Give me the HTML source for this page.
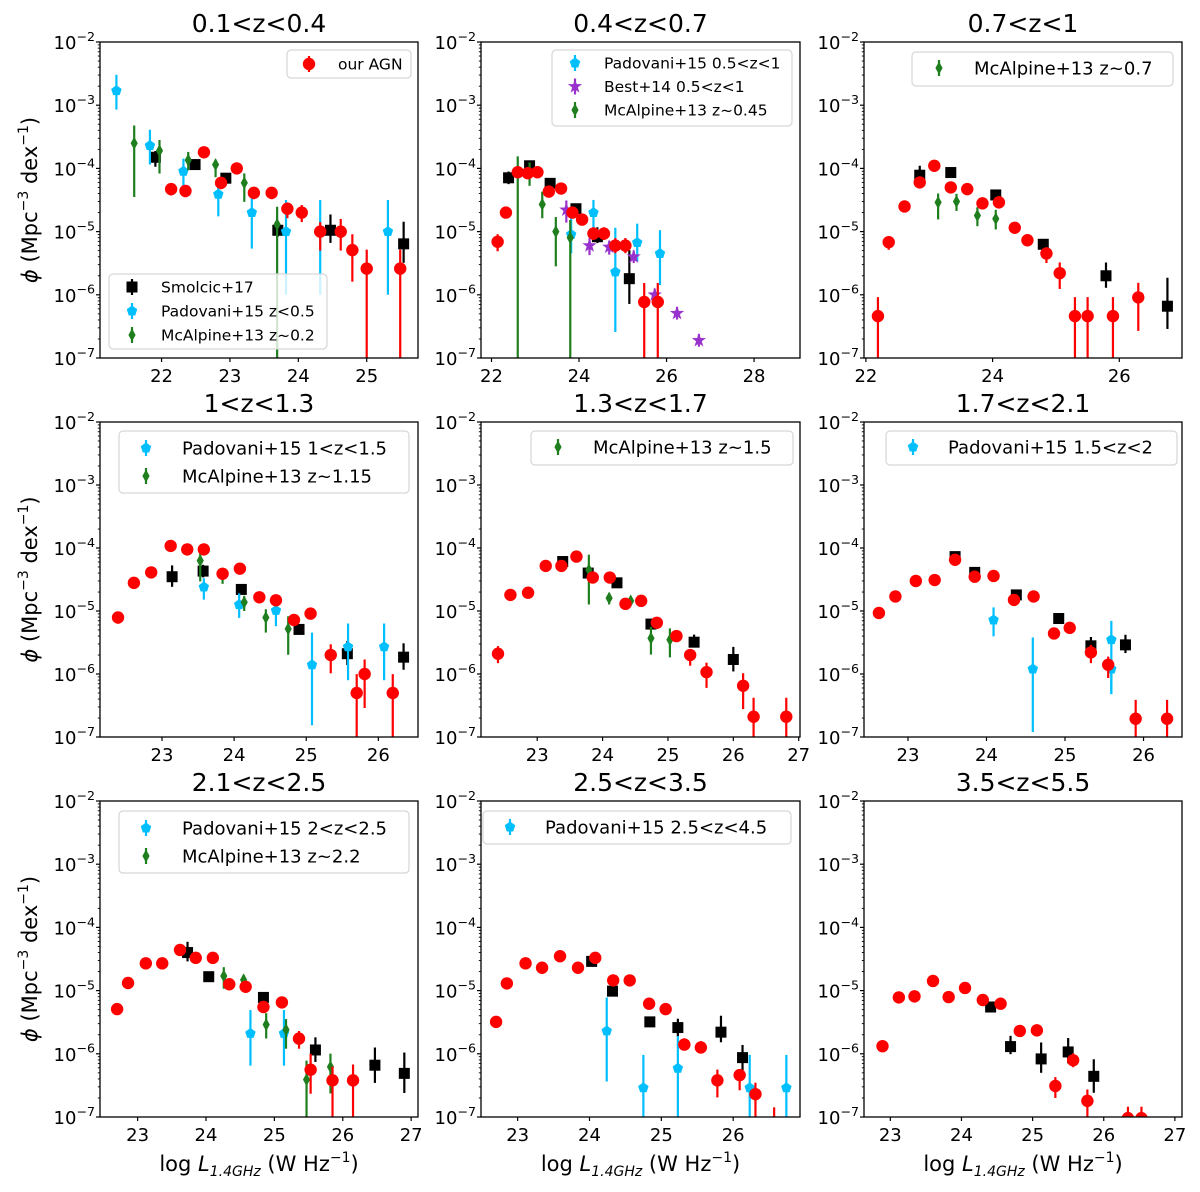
<!DOCTYPE html>
<html><head><meta charset="utf-8"><title>Radio AGN luminosity functions</title>
<style>
html,body{margin:0;padding:0;background:#fff;overflow:hidden;width:1200px;height:1192px;}
svg{display:block;font-family:"DejaVu Sans","Liberation Sans",sans-serif;}
</style></head>
<body>
<svg id="fig" width="1200" height="1192" viewBox="0 0 1200 1192" xmlns="http://www.w3.org/2000/svg"></svg>
<script>
// ---------- Panel 1: 0.1<z<0.4 ----------
const p1RedX=[22.14,22.35,22.62,22.87,23.10,23.35,23.61,23.84,24.05,24.32,24.62,24.79,25.0,25.49];
const p1RedY=[4.7e-5,4.4e-5,1.8e-4,5.9e-5,1.0e-4,4.1e-5,4.1e-5,2.3e-5,2.0e-5,1.0e-5,1.0e-5,5.1e-6,2.6e-6,2.6e-6];
const p1RedLo=[0.1,0.1,0.05,0.1,0.05,0.1,0.1,0.15,0.15,0.3,0.3,0.5,3,3];
const p1RedHi=[0.08,0.08,0.05,0.08,0.05,0.08,0.08,0.1,0.12,0.15,0.2,0.25,0.3,0.3];
const p1BlkX=[21.91,22.49,22.94,23.70,24.47,25.54];
const p1BlkY=[1.5e-4,1.15e-4,7e-5,1.05e-5,1.05e-5,6.4e-6];
const p1BlkLo=[0.15,0.05,0.05,0.1,0.2,0.3];
const p1BlkHi=[0.1,0.05,0.05,0.1,0.25,0.35];
const p1CyaX=[21.34,21.83,22.32,22.83,23.32,23.82,24.32,25.31];
const p1CyaY=[1.7e-3,2.3e-4,9e-5,3.9e-5,2e-5,1e-5,1e-5,1e-5];
const p1CyaLo=[0.3,0.3,0.4,0.35,0.57,1.0,1.0,1.0];
const p1CyaHi=[0.25,0.25,0.2,0.2,0.25,0.5,0.5,0.5];
const p1GrnX=[21.6,21.97,22.39,22.79,23.21,23.69];
const p1GrnY=[2.5e-4,1.9e-4,1.35e-4,1.15e-4,5.9e-5,1.3e-5];
const p1GrnLo=[0.85,0.36,0.16,0.2,0.3,3];
const p1GrnHi=[0.28,0.17,0.13,0.08,0.15,0.28];
// ---------- Panel 2: 0.4<z<0.7 ----------
const p2RedX=[22.14,22.33,22.60,22.83,23.05,23.31,23.59,23.85,24.07,24.33,24.57,24.83,25.06,25.49,25.80];
const p2RedY=[6.9e-6,2e-5,8.7e-5,8.4e-5,8.7e-5,4.3e-5,4.8e-5,2e-5,1.55e-5,9.3e-6,9.3e-6,6e-6,6e-6,7.7e-7,7.7e-7];
const p2RedLo=[0.15,0.05,0.05,0.05,0.05,0.07,0.05,0.07,0.07,0.1,0.1,0.12,0.12,3,3];
const p2RedHi=[0.12,0.05,0.05,0.05,0.05,0.07,0.05,0.07,0.07,0.1,0.1,0.12,0.12,0.3,0.3];
const p2BlkX=[22.39,22.87,23.34,23.93,24.42,25.15];
const p2BlkY=[7.1e-5,1.1e-4,5.8e-5,2.3e-5,8.3e-6,1.8e-6];
const p2BlkLo=[0.1,0.05,0.05,0.08,0.1,0.4];
const p2BlkHi=[0.1,0.05,0.05,0.08,0.15,0.45];
const p2CyaX=[23.82,24.33,24.83,25.33,25.85];
const p2CyaY=[9e-6,2e-5,2.3e-6,6.7e-6,4.5e-6];
const p2CyaLo=[0.3,0.25,0.95,0.3,0.5];
const p2CyaHi=[0.3,0.2,0.7,0.3,0.37];
const p2PurX=[23.71,24.24,24.69,25.25,25.73,26.24,26.74];
const p2PurY=[2.2e-5,6e-6,5.7e-6,4e-6,1e-6,5.1e-7,1.9e-7];
const p2PurLo=[0.2,0.15,0.12,0.1,0.1,0.1,0.1];
const p2PurHi=[0.15,0.12,0.1,0.1,0.1,0.1,0.1];
const p2GrnX=[22.60,22.87,23.16,23.47,23.80];
const p2GrnY=[8.7e-5,8.4e-5,2.7e-5,1e-5,8e-6];
const p2GrnLo=[3,0.2,0.22,0.55,3];
const p2GrnHi=[0.25,0.17,0.2,0.23,0.28];
// ---------- Panel 3: 0.7<z<1 ----------
const p3RedX=[22.19,22.36,22.61,22.85,23.08,23.34,23.60,23.84,24.10,24.35,24.55,24.85,25.06,25.30,25.50,25.90,26.30];
const p3RedY=[4.6e-7,6.8e-6,2.5e-5,6e-5,1.1e-4,5e-5,4.7e-5,2.8e-5,2.9e-5,1.15e-5,7.3e-6,4.5e-6,2.2e-6,4.6e-7,4.6e-7,4.6e-7,9.1e-7];
const p3RedLo=[3,0.12,0.05,0.05,0.05,0.05,0.05,0.05,0.05,0.05,0.08,0.15,0.25,3,3,3,0.53];
const p3RedHi=[0.3,0.08,0.05,0.05,0.05,0.05,0.05,0.05,0.05,0.05,0.05,0.1,0.17,0.3,0.3,0.3,0.23];
const p3BlkX=[22.85,23.34,24.05,24.80,25.79,26.76];
const p3BlkY=[7.8e-5,8.6e-5,3.8e-5,6.3e-6,2.0e-6,6.6e-7];
const p3BlkLo=[0.13,0.05,0.05,0.05,0.19,0.36];
const p3BlkHi=[0.15,0.05,0.05,0.07,0.21,0.45];
const p3GrnX=[23.14,23.43,23.76,24.05];
const p3GrnY=[2.9e-5,3e-5,1.8e-5,1.6e-5];
const p3GrnLo=[0.27,0.15,0.17,0.17];
const p3GrnHi=[0.14,0.12,0.13,0.14];
// ---------- Panel 4: 1<z<1.3 ----------
const p4RedX=[22.39,22.61,22.85,23.12,23.35,23.58,23.84,24.08,24.35,24.58,24.83,25.06,25.34,25.70,25.81,26.20];
const p4RedY=[7.9e-6,2.8e-5,4.1e-5,1.08e-4,9.5e-5,9.5e-5,3.9e-5,4.7e-5,1.65e-5,1.48e-5,7.2e-6,9.1e-6,2e-6,5e-7,1e-6,5e-7];
const p4RedLo=[0.1,0.05,0.05,0.05,0.05,0.05,0.05,0.05,0.05,0.05,0.05,0.05,0.29,3,0.54,3];
const p4RedHi=[0.08,0.05,0.05,0.05,0.05,0.05,0.05,0.05,0.05,0.05,0.05,0.05,0.17,0.3,0.23,0.3];
const p4BlkX=[23.14,23.57,24.10,24.90,25.57,26.35];
const p4BlkY=[3.5e-5,4.3e-5,2.2e-5,5.1e-6,2.1e-6,1.85e-6];
const p4BlkLo=[0.16,0.1,0.05,0.05,0.18,0.2];
const p4BlkHi=[0.18,0.1,0.05,0.05,0.2,0.22];
const p4CyaX=[23.58,24.07,24.58,25.08,25.58,26.08];
const p4CyaY=[2.4e-5,1.26e-5,1.02e-5,1.4e-6,2.7e-6,2.7e-6];
const p4CyaLo=[0.2,0.21,0.25,0.96,0.53,0.53];
const p4CyaHi=[0.14,0.18,0.06,0.51,0.37,0.37];
const p4GrnX=[23.53,23.84,24.14,24.44,24.75];
const p4GrnY=[6.3e-5,3.9e-5,1.38e-5,7.9e-6,5.2e-6];
const p4GrnLo=[0.33,0.16,0.14,0.24,0.41];
const p4GrnHi=[0.12,0.09,0.1,0.13,0.2];
// ---------- Panel 5: 1.3<z<1.7 ----------
const p5RedX=[22.40,22.59,22.86,23.13,23.37,23.60,23.85,24.11,24.35,24.59,24.83,25.13,25.34,25.59,26.15,26.31,26.81];
const p5RedY=[2.1e-6,1.8e-5,1.95e-5,5.2e-5,5.2e-5,7.3e-5,3.4e-5,3.4e-5,1.3e-5,1.45e-5,6.5e-6,4e-6,2e-6,1.07e-6,6.5e-7,2.1e-7,2.1e-7];
const p5RedLo=[0.15,0.05,0.05,0.05,0.05,0.05,0.06,0.06,0.06,0.06,0.08,0.08,0.17,0.25,0.37,3,3];
const p5RedHi=[0.12,0.05,0.05,0.05,0.05,0.05,0.06,0.06,0.06,0.06,0.08,0.08,0.06,0.15,0.2,0.3,0.3];
const p5BlkX=[23.39,23.78,24.22,24.74,25.40,26.0];
const p5BlkY=[6.1e-5,4e-5,2.8e-5,6.2e-6,3.2e-6,1.7e-6];
const p5BlkLo=[0.05,0.05,0.05,0.05,0.08,0.19];
const p5BlkHi=[0.07,0.05,0.05,0.05,0.12,0.2];
const p5GrnX=[23.79,24.10,24.43,24.74,25.03];
const p5GrnY=[4.5e-5,1.6e-5,1.45e-5,3.7e-6,3.5e-6];
const p5GrnLo=[0.55,0.1,0.05,0.26,0.28];
const p5GrnHi=[0.24,0.08,0.05,0.18,0.18];
// ---------- Panel 6: 1.7<z<2.1 ----------
const p6RedX=[22.63,22.84,23.10,23.34,23.60,23.85,24.09,24.35,24.60,24.86,25.06,25.33,25.55,25.90,26.30];
const p6RedY=[9.3e-6,1.7e-5,3e-5,3.1e-5,6.5e-5,3.5e-5,3.6e-5,1.5e-5,1.7e-5,4.4e-6,5.4e-6,2.2e-6,1.4e-6,1.95e-7,1.95e-7];
const p6RedLo=[0.05,0.05,0.05,0.05,0.05,0.05,0.05,0.05,0.05,0.06,0.06,0.17,0.21,3,3];
const p6RedHi=[0.05,0.05,0.05,0.05,0.05,0.05,0.05,0.05,0.05,0.06,0.06,0.12,0.13,0.3,0.3];
const p6BlkX=[23.60,23.85,24.38,24.92,25.33,25.77];
const p6BlkY=[7.3e-5,4.1e-5,1.8e-5,7.6e-6,2.8e-6,2.9e-6];
const p6BlkLo=[0.05,0.05,0.05,0.05,0.1,0.13];
const p6BlkHi=[0.07,0.05,0.05,0.05,0.14,0.16];
const p6CyaX=[24.09,24.59,25.59,25.59];
const p6CyaY=[7.2e-6,1.2e-6,3.5e-6,1.2e-6];
const p6CyaLo=[0.26,1.0,0.85,0.4];
const p6CyaHi=[0.2,0.5,0.3,0.1];
// ---------- Panel 7: 2.1<z<2.5 ----------
const p7RedX=[22.70,22.86,23.12,23.36,23.62,23.85,24.10,24.34,24.58,24.84,25.11,25.36,25.53,25.85,26.15];
const p7RedY=[5.1e-6,1.32e-5,2.7e-5,2.7e-5,4.4e-5,3.3e-5,3.3e-5,1.26e-5,1.15e-5,5.5e-6,6.5e-6,1.74e-6,5.6e-7,3.8e-7,3.8e-7];
const p7RedLo=[0.05,0.05,0.05,0.05,0.05,0.05,0.05,0.05,0.05,0.05,0.05,0.16,0.38,3,3];
const p7RedHi=[0.05,0.05,0.05,0.05,0.05,0.05,0.05,0.05,0.05,0.05,0.05,0.12,0.25,0.22,0.25];
const p7BlkX=[23.73,24.04,24.84,25.60,26.47,26.90];
const p7BlkY=[4e-5,1.66e-5,7.8e-6,1.15e-6,6.6e-7,4.9e-7];
const p7BlkLo=[0.14,0.05,0.05,0.19,0.28,0.31];
const p7BlkHi=[0.17,0.05,0.05,0.2,0.28,0.33];
const p7CyaX=[24.65,25.14];
const p7CyaY=[2.1e-6,2.1e-6];
const p7CyaLo=[0.51,0.51];
const p7CyaHi=[0.37,0.37];
const p7GrnX=[24.26,24.55,24.88,25.17,25.47,25.82];
const p7GrnY=[1.7e-5,1.48e-5,2.9e-6,2.4e-6,3.9e-7,6.2e-7];
const p7GrnLo=[0.2,0.1,0.22,0.3,3,0.42];
const p7GrnHi=[0.14,0.08,0.18,0.17,0.3,0.21];
// ---------- Panel 8: 2.5<z<3.5 ----------
const p8RedX=[22.70,22.85,23.11,23.34,23.59,23.84,24.08,24.33,24.56,24.83,25.06,25.32,25.55,25.78,26.09,26.31,26.57];
const p8RedY=[3.2e-6,1.3e-5,2.7e-5,2.3e-5,3.5e-5,2.3e-5,3.3e-5,1.45e-5,1.45e-5,6.2e-6,5.1e-6,1.4e-6,1.26e-6,3.8e-7,4.6e-7,2.3e-7,8e-8];
const p8RedLo=[0.05,0.05,0.05,0.05,0.05,0.05,0.05,0.05,0.05,0.05,0.05,0.08,0.08,0.27,0.24,3,3];
const p8RedHi=[0.05,0.05,0.05,0.05,0.05,0.05,0.05,0.05,0.05,0.05,0.05,0.1,0.1,0.17,0.09,0.18,0.25];
const p8BlkX=[24.03,24.32,24.84,25.23,25.83,26.13];
const p8BlkY=[2.9e-5,9.8e-6,3.2e-6,2.6e-6,2.2e-6,8.7e-7];
const p8BlkLo=[0.05,0.05,0.05,0.15,0.16,0.2];
const p8BlkHi=[0.05,0.05,0.07,0.14,0.26,0.2];
const p8CyaX=[24.24,24.75,25.23,26.23,26.74];
const p8CyaY=[2.3e-6,2.9e-7,5.9e-7,2.9e-7,2.9e-7];
const p8CyaLo=[0.8,3,3,3,3];
const p8CyaHi=[0.53,0.52,0.51,0.52,0.52];
// ---------- Panel 9: 3.5<z<5.5 ----------
const p9RedX=[22.89,23.12,23.34,23.60,23.82,24.05,24.30,24.55,24.82,25.06,25.32,25.57,25.77,26.34,26.53];
const p9RedY=[1.32e-6,7.8e-6,8.1e-6,1.42e-5,7.9e-6,1.1e-5,7.1e-6,6.2e-6,2.3e-6,2.35e-6,3.1e-7,7.9e-7,1.8e-7,9.6e-8,9.6e-8];
const p9RedLo=[0.05,0.05,0.05,0.05,0.05,0.05,0.05,0.05,0.05,0.05,0.19,0.11,3,3,3];
const p9RedHi=[0.05,0.05,0.05,0.05,0.05,0.05,0.05,0.05,0.05,0.05,0.14,0.11,0.18,0.18,0.18];
const p9BlkX=[24.41,24.69,25.12,25.50,25.86];
const p9BlkY=[5.5e-6,1.3e-6,8.3e-7,1.07e-6,4.4e-7];
const p9BlkLo=[0.05,0.12,0.22,0.18,0.26];
const p9BlkHi=[0.05,0.17,0.26,0.22,0.27];

// Axis configuration (tick labels / ranges)
const panelTitles=['0.1<z<0.4','0.4<z<0.7','0.7<z<1','1<z<1.3','1.3<z<1.7','1.7<z<2.1','2.1<z<2.5','2.5<z<3.5','3.5<z<5.5'];
const panelXmin=[21.1,21.76,21.97,22.14,22.14,22.44,22.45,22.49,22.63];
const panelXmax=[25.75,29.05,26.99,26.55,27.02,26.49,27.10,26.93,27.1];
const panelXTicks=[[22,23,24,25],[22,24,26,28],[22,24,26],[23,24,25,26],[23,24,25,26,27],[23,24,25,26],[23,24,25,26,27],[23,24,25,26],[23,24,25,26,27]];
const yTickExps=[-2,-3,-4,-5,-6,-7];

const panelSeries=[
 [['black',p1BlkX,p1BlkY,p1BlkLo,p1BlkHi],['cyan',p1CyaX,p1CyaY,p1CyaLo,p1CyaHi],['green',p1GrnX,p1GrnY,p1GrnLo,p1GrnHi],['red',p1RedX,p1RedY,p1RedLo,p1RedHi]],
 [['black',p2BlkX,p2BlkY,p2BlkLo,p2BlkHi],['cyan',p2CyaX,p2CyaY,p2CyaLo,p2CyaHi],['purple',p2PurX,p2PurY,p2PurLo,p2PurHi],['green',p2GrnX,p2GrnY,p2GrnLo,p2GrnHi],['red',p2RedX,p2RedY,p2RedLo,p2RedHi]],
 [['black',p3BlkX,p3BlkY,p3BlkLo,p3BlkHi],['green',p3GrnX,p3GrnY,p3GrnLo,p3GrnHi],['red',p3RedX,p3RedY,p3RedLo,p3RedHi]],
 [['black',p4BlkX,p4BlkY,p4BlkLo,p4BlkHi],['cyan',p4CyaX,p4CyaY,p4CyaLo,p4CyaHi],['green',p4GrnX,p4GrnY,p4GrnLo,p4GrnHi],['red',p4RedX,p4RedY,p4RedLo,p4RedHi]],
 [['black',p5BlkX,p5BlkY,p5BlkLo,p5BlkHi],['green',p5GrnX,p5GrnY,p5GrnLo,p5GrnHi],['red',p5RedX,p5RedY,p5RedLo,p5RedHi]],
 [['black',p6BlkX,p6BlkY,p6BlkLo,p6BlkHi],['cyan',p6CyaX,p6CyaY,p6CyaLo,p6CyaHi],['red',p6RedX,p6RedY,p6RedLo,p6RedHi]],
 [['black',p7BlkX,p7BlkY,p7BlkLo,p7BlkHi],['cyan',p7CyaX,p7CyaY,p7CyaLo,p7CyaHi],['green',p7GrnX,p7GrnY,p7GrnLo,p7GrnHi],['red',p7RedX,p7RedY,p7RedLo,p7RedHi]],
 [['black',p8BlkX,p8BlkY,p8BlkLo,p8BlkHi],['cyan',p8CyaX,p8CyaY,p8CyaLo,p8CyaHi],['red',p8RedX,p8RedY,p8RedLo,p8RedHi]],
 [['black',p9BlkX,p9BlkY,p9BlkLo,p9BlkHi],['red',p9RedX,p9RedY,p9RedLo,p9RedHi]]
];

const legendLabels=[
 [[['red','our AGN']],[['black','Smolcic+17'],['cyan','Padovani+15 z<0.5'],['green','McAlpine+13 z~0.2']]],
 [[['cyan','Padovani+15 0.5<z<1'],['purple','Best+14 0.5<z<1'],['green','McAlpine+13 z~0.45']]],
 [[['green','McAlpine+13 z~0.7']]],
 [[['cyan','Padovani+15 1<z<1.5'],['green','McAlpine+13 z~1.15']]],
 [[['green','McAlpine+13 z~1.5']]],
 [[['cyan','Padovani+15 1.5<z<2']]],
 [[['cyan','Padovani+15 2<z<2.5'],['green','McAlpine+13 z~2.2']]],
 [[['cyan','Padovani+15 2.5<z<4.5']]],
 []
];
// legend box geometry: [x,y,w,h,fontSize,markerOffset,textOffset,firstRow,rowPitch]
const legendBoxes=[
 [[287,50,124,28,15.5,22,51,14,24],[109,274,218,75,15.5,23,52,13,24]],
 [[552,50,240,76,15.5,23,52,13,23.5]],
 [[912,52,261,34,18,27,62,16,28]],
 [[119,431,290,62,18,27,63,17,28]],
 [[531,431,262,34,18,27,62,16,28]],
 [[886,431,291,34,18,27,62,16,28]],
 [[119,811,290,62,18,27,63,17,28]],
 [[483,811,308,33,18,27,62,16,28]],
 []
];
const colXs=[[100,418],[481,800],[864,1182]];
const rowYs=[[42,358],[422,737],[801,1117]];
const COLORS={red:'#ff0000',black:'#000000',cyan:'#00bfff',green:'#1f7f1f',purple:'#9932cc'};
const NAMES={red:'our-agn',black:'smolcic17',cyan:'padovani15',green:'mcalpine13',purple:'best14'};

const NS='http://www.w3.org/2000/svg';
const svg=document.getElementById('fig');
function mk(tag,attrs,parent){const e=document.createElementNS(NS,tag);for(const k in attrs)e.setAttribute(k,attrs[k]);(parent||svg).appendChild(e);return e;}

function marker(kind,cx,cy,parent){
  const c=COLORS[kind];let e;
  if(kind==='red'){e=mk('circle',{cx:cx,cy:cy,r:6.2,fill:c},parent);}
  else if(kind==='black'){e=mk('rect',{x:cx-5.5,y:cy-5.5,width:11,height:11,fill:c},parent);}
  else if(kind==='cyan'){let p=[];for(let k=0;k<5;k++){const a=(-90+72*k)*Math.PI/180;p.push((cx+5.5*Math.cos(a)).toFixed(2)+','+(cy+5.5*Math.sin(a)).toFixed(2));}e=mk('polygon',{points:p.join(' '),fill:c},parent);}
  else if(kind==='green'){e=mk('polygon',{points:`${cx},${cy-6.5} ${cx+3.6},${cy} ${cx},${cy+6.5} ${cx-3.6},${cy}`,fill:c},parent);}
  else {let p=[];for(let k=0;k<10;k++){const a=(-90+36*k)*Math.PI/180;const r=k%2?3:7.5;p.push((cx+r*Math.cos(a)).toFixed(2)+','+(cy+r*Math.sin(a)).toFixed(2));}e=mk('polygon',{points:p.join(' '),fill:c},parent);}
  return e;
}

function supText(parent,x,y,base,sup,size,anchor){
  const t=mk('text',{x:x,y:y,'font-size':size,'text-anchor':anchor,fill:'#000'},parent);
  t.appendChild(document.createTextNode(base));
  const s=mk('tspan',{dy:-size*0.45,'font-size':size*0.7},t);
  s.textContent=sup;
  return t;
}

for(let i=0;i<9;i++){
  const col=i%3,row=Math.floor(i/3);
  const x0=colXs[col][0],x1=colXs[col][1],y0=rowYs[row][0],y1=rowYs[row][1];
  const xmin=panelXmin[i],xmax=panelXmax[i];
  const sx=v=>x0+(v-xmin)/(xmax-xmin)*(x1-x0);
  const sy=v=>y0+(-2-Math.log10(v))/5*(y1-y0);
  const g=mk('g',{});
  
  
  const cp=mk('clipPath',{id:'clip'+i},g);
  mk('rect',{x:x0,y:y0,width:x1-x0,height:y1-y0},cp);
  const tt=mk('text',{x:(x0+x1)/2,y:y0-10,'font-size':25,'text-anchor':'middle'},g);
  tt.textContent=panelTitles[i];
  
  
  const yax=mk('g',{},g);
  
  
  for(const e of yTickExps){
    const yy=sy(Math.pow(10,e));
    mk('line',{x1:x0-4,y1:yy,x2:x0,y2:yy,stroke:'#000','stroke-width':1.2},yax);
    const lab=supText(yax,x0-5,yy+7,'10','\u2212'+(-e),18,'end');
    
    
    if(e>-7){for(let k=2;k<10;k++){const ym=sy(k*Math.pow(10,e-1));mk('line',{x1:x0-2.2,y1:ym,x2:x0,y2:ym,stroke:'#000','stroke-width':0.9},yax);}}
  }
  const xax=mk('g',{},g);
  
  
  for(const v of panelXTicks[i]){
    const xx=sx(v);
    mk('line',{x1:xx,y1:y1,x2:xx,y2:y1+4,stroke:'#000','stroke-width':1.2},xax);
    const lab=mk('text',{x:xx,y:y1+24,'font-size':18,'text-anchor':'middle'},xax);
    lab.textContent=String(v);
    
    
  }
  const plot=mk('g',{'clip-path':'url(#clip'+i+')'},g);
  for(const s of panelSeries[i]){
    const kind=s[0],X=s[1],Y=s[2],LO=s[3],HI=s[4];
    const sg=mk('g',{},plot);
    
    
    for(let j=0;j<X.length;j++){
      const cx=sx(X[j]),cy=sy(Y[j]);
      const lg=Math.log10(Y[j]);
      const ya=sy(Math.pow(10,lg+HI[j])),yb=sy(Math.pow(10,lg-LO[j]));
      const eb=mk('line',{x1:cx,y1:ya,x2:cx,y2:yb,stroke:COLORS[kind],'stroke-width':2.2},sg);
      
      
      const m=marker(kind,cx,cy,sg);
      
      
    }
  }
  const fr=mk('rect',{x:x0,y:y0,width:x1-x0,height:y1-y0,fill:'none',stroke:'#000','stroke-width':1.3},g);
  
  
  for(let L=0;L<legendLabels[i].length;L++){
    const b=legendBoxes[i][L];
    const lgEl=mk('g',{},g);
    
    
    mk('rect',{x:b[0],y:b[1],width:b[2],height:b[3],rx:4,fill:'#fff','fill-opacity':0.8,stroke:'#d6d6d6','stroke-width':1.2},lgEl);
    legendLabels[i][L].forEach((en,k)=>{
      const yy=b[1]+b[7]+k*b[8];
      const mx=b[0]+b[5];
      const entry=mk('g',{},lgEl);
      
      
      mk('line',{x1:mx,y1:yy-8,x2:mx,y2:yy+8,stroke:COLORS[en[0]],'stroke-width':2.2},entry);
      marker(en[0],mx,yy,entry);
      const t=mk('text',{x:b[0]+b[6],y:yy+b[4]*0.36,'font-size':b[4]},entry);
      t.textContent=en[1];
    });
  }
  if(col===0){
    const cyl=(y0+y1)/2;
    const yl=mk('text',{x:0,y:0,'font-size':21,'text-anchor':'middle',transform:`translate(37,${cyl}) rotate(-90)`},svg);
    
    
    const a=mk('tspan',{'font-style':'italic'},yl);a.textContent='\u03D5';
    const b1=mk('tspan',{},yl);b1.textContent=' (Mpc';
    const s1=mk('tspan',{dy:-9,'font-size':14},yl);s1.textContent='\u22123';
    const b2=mk('tspan',{dy:9},yl);b2.textContent=' dex';
    const s2=mk('tspan',{dy:-9,'font-size':14},yl);s2.textContent='\u22121';
    const b3=mk('tspan',{dy:9},yl);b3.textContent=')';
  }
  if(row===2){
    const xl=mk('text',{x:(x0+x1)/2,y:1171,'font-size':21,'text-anchor':'middle'},svg);
    
    
    const a=mk('tspan',{},xl);a.textContent='log ';
    const b1=mk('tspan',{'font-style':'italic'},xl);b1.textContent='L';
    const s1=mk('tspan',{'font-style':'italic','font-size':14,dy:5},xl);s1.textContent='1.4GHz';
    const c1=mk('tspan',{dy:-5},xl);c1.textContent=' (W Hz';
    const s2=mk('tspan',{dy:-9,'font-size':14},xl);s2.textContent='\u22121';
    const c2=mk('tspan',{dy:9},xl);c2.textContent=')';
  }
}
</script>
</body></html>
